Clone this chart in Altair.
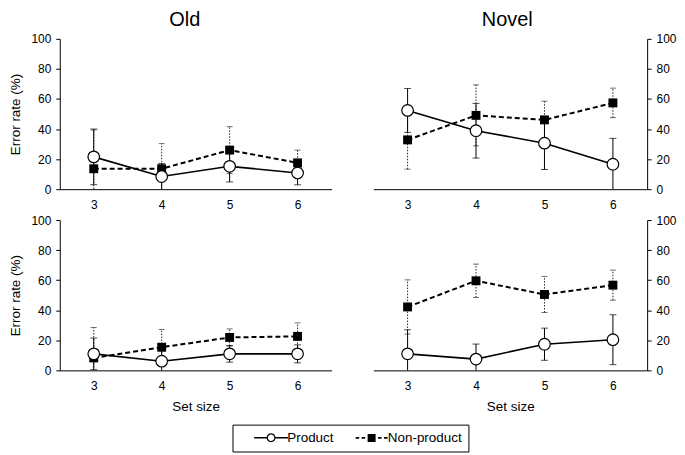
import altair as alt
import pandas as pd

FONT = "Liberation Sans"

set_sizes = [3, 4, 5, 6]
conditions = ["Old", "Novel"]
series_names = ["Product", "Non-product"]
y_ticks = [0, 20, 40, 60, 80, 100]

# top row
old1_product_mean = [21.5, 8.4, 15.2, 10.8]
old1_product_sd = [18.5, 8.7, 10.4, 7.9]
old1_nonproduct_mean = [13.6, 13.6, 26.0, 17.5]
old1_nonproduct_sd = [25.8, 16.7, 15.6, 8.5]
novel1_product_mean = [52.4, 38.9, 30.6, 16.6]
novel1_product_sd = [14.6, 18.2, 17.5, 17.2]
novel1_nonproduct_mean = [32.8, 49.1, 46.1, 57.4]
novel1_nonproduct_sd = [19.5, 20.3, 12.4, 9.8]
# bottom row
old2_product_mean = [11.0, 6.1, 11.0, 11.0]
old2_product_sd = [10.5, 7.0, 5.5, 6.0]
old2_nonproduct_mean = [8.3, 15.4, 21.9, 22.6]
old2_nonproduct_sd = [20.2, 11.8, 5.7, 9.0]
novel2_product_mean = [11.0, 7.5, 17.4, 20.4]
novel2_product_sd = [16.0, 10.0, 10.7, 16.6]
novel2_nonproduct_mean = [42.2, 59.6, 50.5, 56.7]
novel2_nonproduct_sd = [18.0, 11.1, 12.0, 10.0]

groups = [
    ("Old", 1, "Product", old1_product_mean, old1_product_sd),
    ("Old", 1, "Non-product", old1_nonproduct_mean, old1_nonproduct_sd),
    ("Novel", 1, "Product", novel1_product_mean, novel1_product_sd),
    ("Novel", 1, "Non-product", novel1_nonproduct_mean, novel1_nonproduct_sd),
    ("Old", 2, "Product", old2_product_mean, old2_product_sd),
    ("Old", 2, "Non-product", old2_nonproduct_mean, old2_nonproduct_sd),
    ("Novel", 2, "Product", novel2_product_mean, novel2_product_sd),
    ("Novel", 2, "Non-product", novel2_nonproduct_mean, novel2_nonproduct_sd),
]
rows = []
for cond, r, s, means, sds in groups:
    for k, m, sd in zip(set_sizes, means, sds):
        rows.append({"cond": cond, "row": r, "series": s, "size": k, "mean": m,
                     "lo": max(0.0, m - sd), "hi": min(100.0, m + sd)})
df = pd.DataFrame(rows)

# legend glyphs (unit = sqrt(symbolSize)/2)
product_path = ("M-3.78,-0.17H-0.95V0.17H-3.78Z M0.95,-0.17H3.78V0.17H0.95Z "
                "M-1,0A1,1 0 1,1 1,0A1,1 0 1,1 -1,0Z "
                "M-0.72,0A0.72,0.72 0 1,0 0.72,0A0.72,0.72 0 1,0 -0.72,0Z")
nonproduct_path = ("M-3.56,-0.2H-2.78V0.2H-3.56Z M-2.22,-0.2H-1.44V0.2H-2.22Z "
                   "M-0.89,-0.89H0.89V0.89H-0.89Z "
                   "M1.44,-0.2H2.22V0.2H1.44Z M2.78,-0.2H3.56V0.2H2.78Z")
legend_df = pd.DataFrame({"series": series_names})


def panel(cond, row, width, height, y_orient, y_title, x_title, title=None):
    base = alt.Chart(df).transform_filter(
        (alt.datum.cond == cond) & (alt.datum.row == row))
    xs = alt.Scale(domain=[2.5, 6.5], nice=False, zero=False)
    ys = alt.Scale(domain=[0, 100], nice=False, zero=True)
    xaxis = alt.Axis(values=set_sizes, tickCount=10, ticks=False, grid=False, labelPadding=10,
                     title=x_title, titlePadding=8, labelFlush=False, format="d",
                     labelOverlap=False)
    yaxis = alt.Axis(values=y_ticks, tickCount=12, orient=y_orient, tickSize=4, grid=False,
                     labelPadding=5, title=y_title, titlePadding=8, format="d",
                     labelOverlap=False, labelFlush=False)

    def X(field):
        return alt.X(field, scale=xs, axis=xaxis)

    def Y(field):
        return alt.Y(field, scale=ys, axis=yaxis)

    prod = base.transform_filter(alt.datum.series == "Product")
    nonp = base.transform_filter(alt.datum.series == "Non-product")

    layers = []
    # non-product error bars (dotted)
    layers.append(nonp.mark_rule(color="#222", strokeWidth=1, strokeDash=[1.5, 1.5]).encode(
        x=X("size:Q"), y=Y("lo:Q"), y2="hi:Q"))
    layers.append(nonp.transform_fold(["lo", "hi"], as_=["end", "val"])
                  .transform_filter(alt.datum.val > 0)
                  .mark_tick(orient="horizontal", size=6, thickness=1, color="#333")
                  .encode(x=X("size:Q"), y=Y("val:Q")))
    # product error bars (solid)
    layers.append(prod.mark_rule(color="black", strokeWidth=1).encode(
        x=X("size:Q"), y=Y("lo:Q"), y2="hi:Q"))
    layers.append(prod.transform_fold(["lo", "hi"], as_=["end", "val"])
                  .transform_filter(alt.datum.val > 0)
                  .mark_tick(orient="horizontal", size=7, thickness=1, color="black")
                  .encode(x=X("size:Q"), y=Y("val:Q")))
    # lines
    layers.append(nonp.mark_line(color="black", strokeWidth=2, strokeDash=[5, 3]).encode(
        x=X("size:Q"), y=Y("mean:Q")))
    layers.append(prod.mark_line(color="black", strokeWidth=1.6).encode(
        x=X("size:Q"), y=Y("mean:Q")))
    # markers
    layers.append(nonp.mark_square(size=80, color="black", opacity=1).encode(
        x=X("size:Q"), y=Y("mean:Q")))
    layers.append(prod.mark_point(shape="circle", size=135, filled=True, fill="white",
                                  stroke="black", strokeWidth=1.2, opacity=1).encode(
        x=X("size:Q"), y=Y("mean:Q")))
    if row == 2 and cond == "Old":
        layers.append(alt.Chart(legend_df).mark_point(filled=True, color="black", opacity=0,
                                                      size=81).encode(
            shape=alt.Shape("series:N",
                            scale=alt.Scale(domain=series_names,
                                            range=[product_path, nonproduct_path]),
                            legend=alt.Legend(orient="none", legendX=173.5, legendY=387.5,
                                              direction="horizontal", strokeColor="black",
                                              padding=6, symbolSize=81, symbolOffset=26,
                                              labelOffset=9.5, columnPadding=5,
                                              labelFontSize=13.5, labelFont=FONT,
                                              labelColor="black", title=None))))
    ch = alt.layer(*layers).properties(width=width, height=height)
    if title is not None:
        ch = ch.properties(title=title)
    return ch


t_old = alt.TitleParams("Old", fontSize=20, fontWeight="normal", font=FONT,
                        color="black", offset=3, dx=-11, anchor="middle")
t_novel = alt.TitleParams("Novel", fontSize=20, fontWeight="normal", font=FONT,
                          color="black", offset=3, dx=-3, anchor="middle")

TL = panel("Old", 1, 273, 151, "left", "Error rate (%)", None, t_old)
TR = panel("Novel", 1, 275, 151, "right", None, None, t_novel)
BL = panel("Old", 2, 273, 151, "left", "Error rate (%)", "Set size")
BR = panel("Novel", 2, 275, 151, "right", None, "Set size")

chart = alt.concat(TL, TR, BL, BR, columns=2, spacing={"row": 31, "column": 42},
                   bounds="flush",
                   padding={"left": 0, "top": 0, "right": 0, "bottom": 0}).configure_axis(
    labelFont=FONT, titleFont=FONT, labelFontSize=12, titleFontSize=13.5,
    titleFontWeight="normal", labelColor="black", titleColor="black",
    domainColor="black", tickColor="black", domainWidth=1, tickWidth=1
).configure_view(stroke="transparent")

chart.save("out.html", embed_options={"renderer": "svg", "actions": False})
